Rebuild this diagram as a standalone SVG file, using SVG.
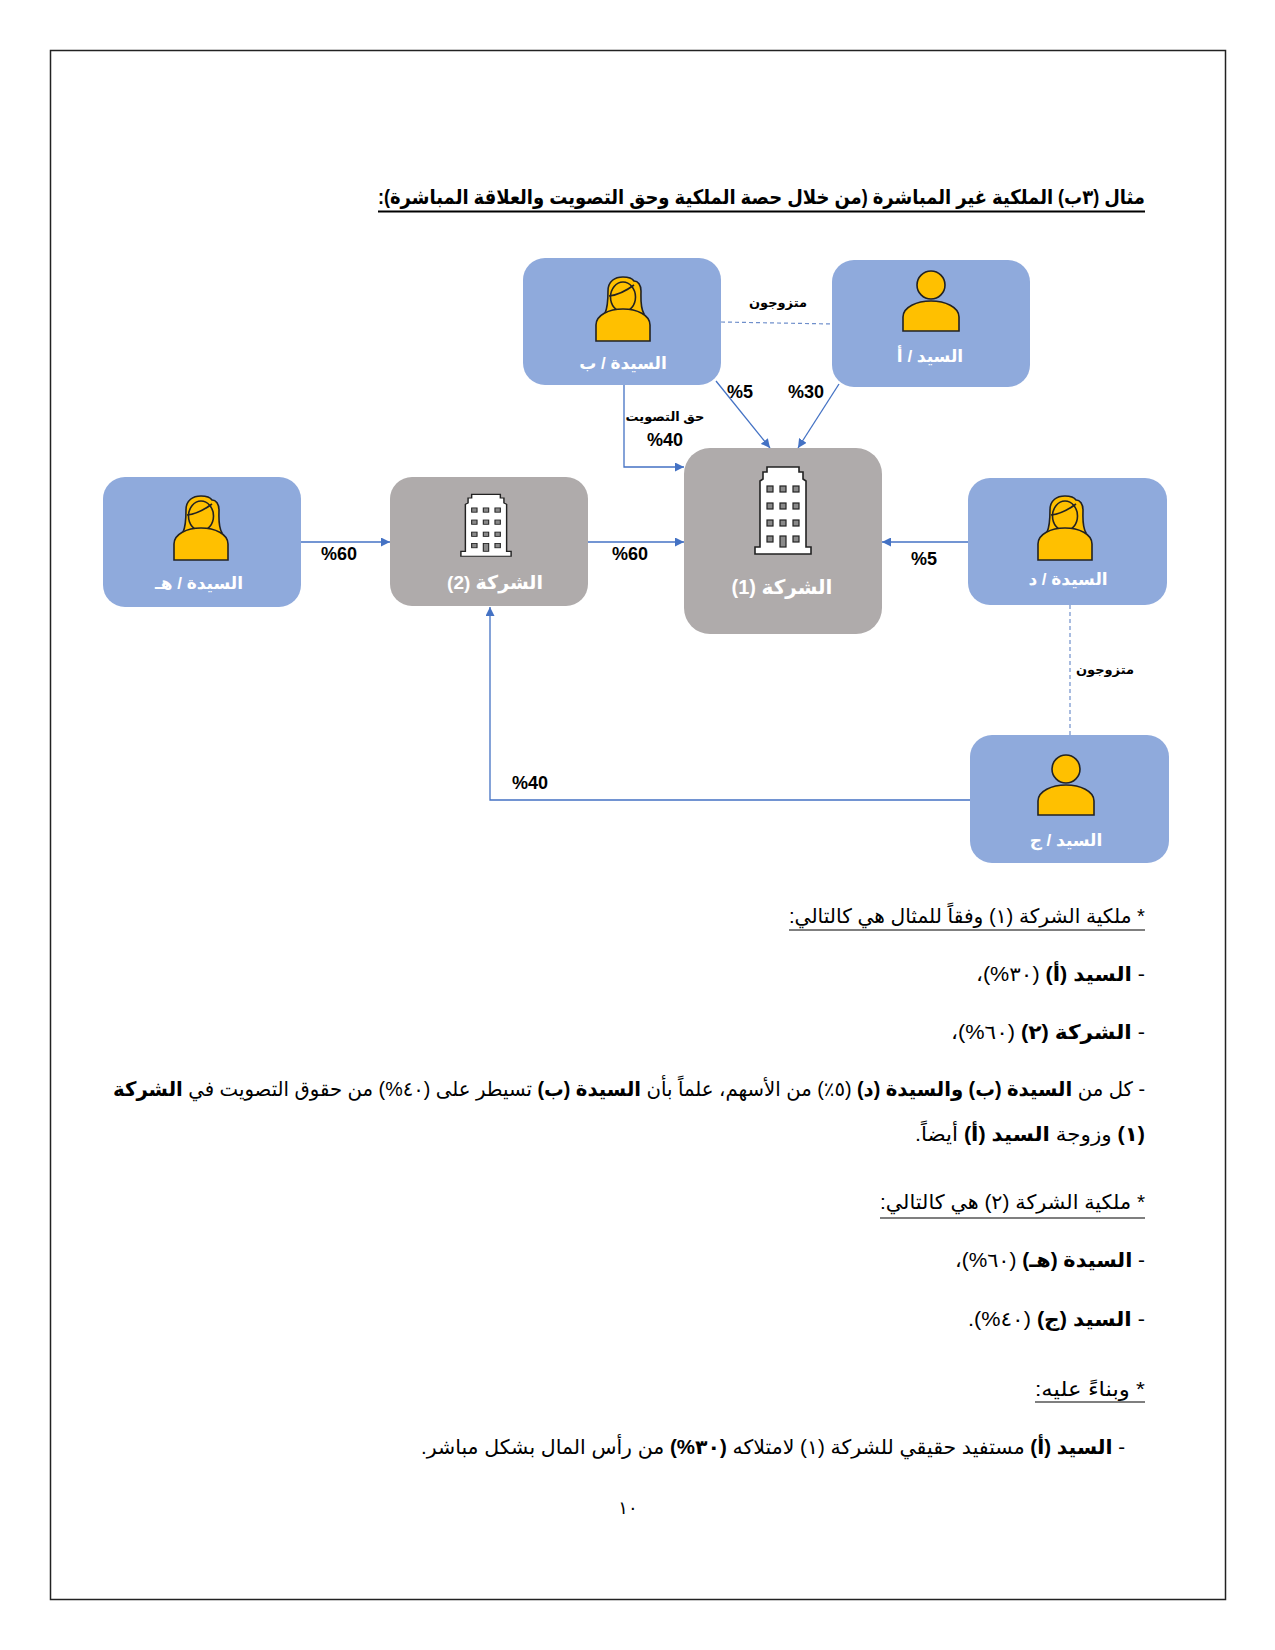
<svg xmlns="http://www.w3.org/2000/svg" width="1275" height="1650" viewBox="0 0 1275 1650">
<style>
text{font-family:"Liberation Sans","DejaVu Sans",sans-serif;fill:#000}
.body{font-size:20px;direction:rtl;text-anchor:start}
.b{font-weight:bold}
.ul{stroke:#000;stroke-width:1.2}
.nl{fill:#fff;font-weight:bold;font-size:17px;direction:rtl;text-anchor:middle}
.pct{font-weight:bold;font-size:18px;text-anchor:middle}
.ar{font-weight:bold;font-size:13px;direction:rtl;text-anchor:middle}
.blue{fill:#8FAADC}
.grey{fill:#AFABAB}
.c{fill:none;stroke:#4472C4;stroke-width:1.3}
.d{fill:none;stroke:#6F8FCB;stroke-width:1.2;stroke-dasharray:4 3}
.y{fill:#FFC000;stroke:#222;stroke-width:1.6}
.w{fill:#fff;stroke:#222;stroke-width:1.6}
.win{fill:#8a8a8a;stroke:#222;stroke-width:1.2}
</style>
<defs>
<marker id="ah" viewBox="0 0 10 10" refX="10" refY="5" markerWidth="9" markerHeight="9" markerUnits="userSpaceOnUse" orient="auto"><path d="M0,0L10,5L0,10Z" fill="#4472C4"/></marker>
<symbol id="man" viewBox="0 0 58 62" overflow="visible">
<circle class="y" cx="29" cy="15" r="14"/>
<path class="y" d="M1,61V47C1,37 15,31 29,31C43,31 57,37 57,47V61Z"/>
</symbol>
<symbol id="woman" viewBox="0 0 56 66" overflow="visible">
<path class="y" d="M10,37C13,31 13,23 13,15C13,5 20,1 28,1C33,1 37,2 39,5C43,5 46,9 46,15C46,23 45,31 49,38C43,39 39,37 37,34L20,34C17,37 14,38 10,37Z"/>
<ellipse class="y" cx="28" cy="21" rx="12.500" ry="15"/>
<path fill="none" stroke="#222" stroke-width="1.600" d="M14,20C23,19 31,15 39,9"/>
<path class="y" d="M1,65V49C1,39 14,33 28,33C42,33 55,39 55,49V65Z"/>
</symbol>
<symbol id="bld" viewBox="0 0 58 90" preserveAspectRatio="none" overflow="visible">
<path class="w" d="M1,89V82H6V16L9,14V7H13V2H45V7H49V14L52,16V82H57V89Z"/>
<g class="win">
<rect x="13" y="21" width="6" height="6"/><rect x="26" y="21" width="6" height="6"/><rect x="39" y="21" width="6" height="6"/>
<rect x="13" y="38" width="6" height="6"/><rect x="26" y="38" width="6" height="6"/><rect x="39" y="38" width="6" height="6"/>
<rect x="13" y="55" width="6" height="6"/><rect x="26" y="55" width="6" height="6"/><rect x="39" y="55" width="6" height="6"/>
<rect x="13" y="71" width="6" height="6"/><rect x="26" y="71" width="6" height="11"/><rect x="39" y="71" width="6" height="6"/>
</g>
</symbol>
</defs>
<rect width="1275" height="1650" fill="#fff"/>
<rect x="50.500" y="50.500" width="1175" height="1549" fill="none" stroke="#222" stroke-width="1.500"/>
<text class="body b" x="1145" y="204" font-size="21" textLength="767" lengthAdjust="spacingAndGlyphs">مثال (٣ب) الملكية غير المباشرة (من خلال حصة الملكية وحق التصويت والعلاقة المباشرة):</text>
<line x1="378" y1="211.500" x2="1145" y2="211.500" stroke="#000" stroke-width="2"/>
<g id="connectors">
<path class="c" marker-end="url(#ah)" d="M301,542H390"/>
<path class="c" marker-end="url(#ah)" d="M588,542H684"/>
<path class="c" marker-end="url(#ah)" d="M968,542H882"/>
<path class="c" marker-end="url(#ah)" d="M970,800H490V607"/>
<path class="c" marker-end="url(#ah)" d="M624,385V467H684"/>
<path class="c" marker-end="url(#ah)" d="M716,381L770,448"/>
<path class="c" marker-end="url(#ah)" d="M839,384L798,448"/>
<path class="d" d="M721,322L832,324"/>
<path class="d" d="M1070,605V735"/>
</g>
<g id="node-b"><rect class="blue" x="523" y="258" width="198" height="127" rx="22"/><use href="#woman" x="595" y="276" width="56" height="66"/><text class="nl" x="623" y="369">السيدة / ب</text></g>
<g id="node-a"><rect class="blue" x="832" y="260" width="198" height="127" rx="22"/><use href="#man" x="902" y="270" width="58" height="62"/><text class="nl" x="930" y="362">السيد / أ</text></g>
<g id="node-c1"><rect class="grey" x="684" y="448" width="198" height="186" rx="26"/><use href="#bld" x="754" y="465" width="58" height="90"/><text class="nl" x="782" y="594" style="font-size:20px">الشركة (1)</text></g>
<g id="node-c2"><rect class="grey" x="390" y="477" width="198" height="129" rx="22"/><use href="#bld" x="460" y="493" width="52" height="64"/><text class="nl" x="495" y="589" style="font-size:19px">الشركة (2)</text></g>
<g id="node-h"><rect class="blue" x="103" y="477" width="198" height="130" rx="22"/><use href="#woman" x="173" y="495" width="56" height="66"/><text class="nl" x="199" y="589">السيدة / هـ</text></g>
<g id="node-d"><rect class="blue" x="968" y="478" width="199" height="127" rx="22"/><use href="#woman" x="1037" y="495" width="56" height="66"/><text class="nl" x="1068" y="585">السيدة / د</text></g>
<g id="node-j"><rect class="blue" x="970" y="735" width="199" height="128" rx="22"/><use href="#man" x="1037" y="754" width="58" height="62"/><text class="nl" x="1066" y="846">السيد / ج</text></g>
<g id="labels">
<text class="ar" x="778" y="307">متزوجون</text>
<text class="ar" x="1105" y="674">متزوجون</text>
<text class="ar" x="665" y="421">حق التصويت</text>
<text class="pct" x="665" y="446">%40</text>
<text class="pct" x="740" y="398">%5</text>
<text class="pct" x="806" y="398">%30</text>
<text class="pct" x="339" y="560">%60</text>
<text class="pct" x="630" y="560">%60</text>
<text class="pct" x="924" y="565">%5</text>
<text class="pct" x="530" y="789">%40</text>
</g>
<g id="body">
<text class="body" x="1145" y="923" textLength="356" lengthAdjust="spacingAndGlyphs">* ملكية الشركة (١) وفقاً للمثال هي كالتالي:</text>
<line class="ul" x1="789" y1="930" x2="1145" y2="930"/>
<text class="body" x="1145" y="981" textLength="169" lengthAdjust="spacingAndGlyphs">- <tspan class="b">السيد (أ)</tspan> (٣٠%)،</text>
<text class="body" x="1145" y="1039" textLength="194" lengthAdjust="spacingAndGlyphs">- <tspan class="b">الشركة (٢)</tspan> (٦٠%)،</text>
<text class="body" x="1145" y="1096" textLength="1032" lengthAdjust="spacingAndGlyphs">- كل من <tspan class="b">السيدة (ب) والسيدة (د)</tspan> (٥٪) من الأسهم، علماً بأن <tspan class="b">السيدة (ب)</tspan> تسيطر على (٤٠%) من حقوق التصويت في <tspan class="b">الشركة</tspan></text>
<text class="body" x="1145" y="1141" textLength="230" lengthAdjust="spacingAndGlyphs"><tspan class="b">(١)</tspan> وزوجة <tspan class="b">السيد (أ)</tspan> أيضاً.</text>
<text class="body" x="1145" y="1209" textLength="265" lengthAdjust="spacingAndGlyphs">* ملكية الشركة (٢) هي كالتالي:</text>
<line class="ul" x1="880" y1="1218" x2="1145" y2="1218"/>
<text class="body" x="1145" y="1267" textLength="190" lengthAdjust="spacingAndGlyphs">- <tspan class="b">السيدة (هـ)</tspan> (٦٠%)،</text>
<text class="body" x="1145" y="1326" textLength="177" lengthAdjust="spacingAndGlyphs">- <tspan class="b">السيد (ج)</tspan> (٤٠%).</text>
<text class="body" x="1145" y="1396" textLength="110" lengthAdjust="spacingAndGlyphs">* وبناءً عليه:</text>
<line class="ul" x1="1035" y1="1402" x2="1145" y2="1402"/>
<text class="body" x="1125" y="1454" textLength="704" lengthAdjust="spacingAndGlyphs">-   <tspan class="b">السيد (أ)</tspan> مستفيد حقيقي للشركة (١) لامتلاكه <tspan class="b">(٣٠%)</tspan> من رأس المال بشكل مباشر.</text>
<text x="628" y="1514" font-size="18" text-anchor="middle">١٠</text>
</g>
</svg>
